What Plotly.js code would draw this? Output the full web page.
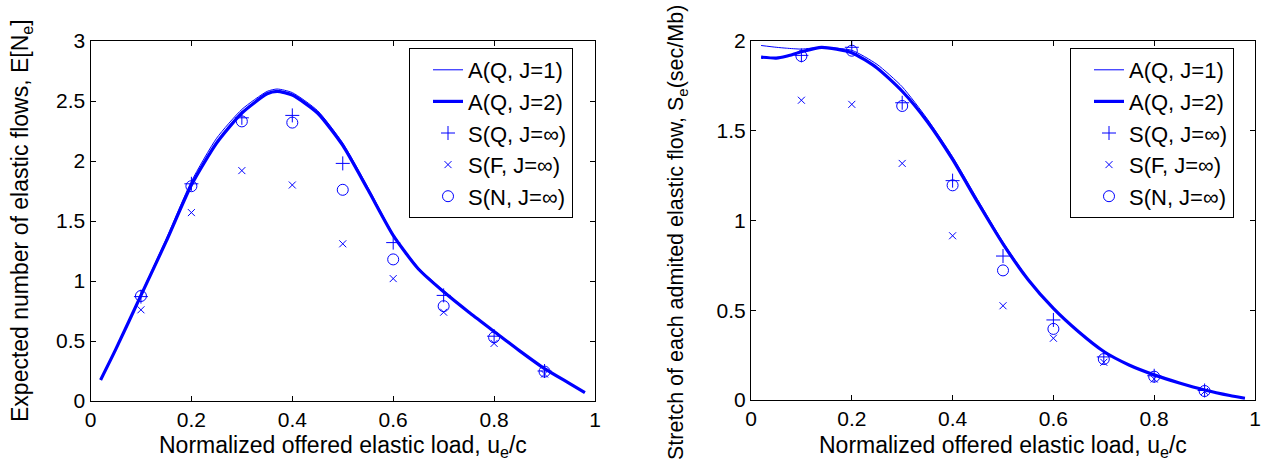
<!DOCTYPE html>
<html>
<head>
<meta charset="utf-8">
<script src="https://cdn.plot.ly/plotly-3.0.1.min.js"></script>
<style>html,body{margin:0;padding:0;background:#fff;}#chart{width:1267px;height:466px;}</style>
</head>
<body>
<div id="chart"></div>
<script>
// ---- Data ----
const curveX = [0.02,0.05,0.1,0.15,0.2,0.25,0.3,0.35,0.37,0.4,0.45,0.5,0.55,0.6,0.65,0.7,0.75,0.8,0.85,0.9,0.95,0.98];
// Left panel: expected number of elastic flows
const leftJ1 = [0.175,0.43,0.89,1.35,1.83,2.19,2.43,2.58,2.60,2.57,2.42,2.15,1.78,1.39,1.11,0.92,0.745,0.585,0.425,0.27,0.145,0.07];
const leftJ2 = [0.175,0.43,0.88,1.33,1.80,2.15,2.40,2.56,2.58,2.55,2.40,2.13,1.76,1.38,1.10,0.91,0.74,0.58,0.42,0.27,0.145,0.07];
const simX = [0.1,0.2,0.3,0.4,0.5,0.6,0.7,0.8,0.9];
const leftSQ = [0.87,1.81,2.36,2.38,1.98,1.32,0.88,0.54,0.25];
const leftSF = [0.76,1.57,1.92,1.80,1.31,1.02,0.74,0.48,0.225];
const leftSN = [0.875,1.79,2.33,2.32,1.76,1.18,0.79,0.53,0.245];
// Right panel: stretch of each admited elastic flow
const rightCurveX = [0.02,0.05,0.07,0.1,0.14,0.2,0.25,0.3,0.35,0.4,0.45,0.5,0.55,0.6,0.65,0.7,0.75,0.8,0.85,0.9,0.95,0.98];
const rightJ1 = [1.975,1.965,1.96,1.955,1.965,1.948,1.87,1.745,1.565,1.355,1.115,0.88,0.675,0.51,0.38,0.27,0.195,0.14,0.095,0.056,0.025,0.01];
const rightJ2 = [1.91,1.905,1.915,1.94,1.965,1.935,1.85,1.72,1.55,1.34,1.10,0.87,0.67,0.51,0.38,0.27,0.195,0.14,0.095,0.056,0.025,0.01];
const rightSQ = [1.92,1.965,1.656,1.222,0.802,0.446,0.24,0.135,0.053];
const rightSF = [1.67,1.647,1.318,0.915,0.525,0.344,0.21,0.117,0.048];
const rightSN = [1.916,1.946,1.638,1.196,0.722,0.396,0.228,0.13,0.05];
const seriesNames = ["A(Q, J=1)","A(Q, J=2)","S(Q, J=\u221e)","S(F, J=\u221e)","S(N, J=\u221e)"];
const xTicks = [0,0.2,0.4,0.6,0.8,1];
const xTickText = ["0","0.2","0.4","0.6","0.8","1"];
const leftYTicks = [0,0.5,1,1.5,2,2.5,3];
const leftYTickText = ["0","0.5","1","1.5","2","2.5","3"];
const rightYTicks = [0,0.5,1,1.5,2];
const rightYTickText = ["0","0.5","1","1.5","2"];

const BLUE = "rgb(0,0,255)";
const FONT = "Liberation Sans, Arial, sans-serif";

function panel(cx, j1, j2, sq, sf, sn, xa, ya, leg) {
  return [
    {x: cx, y: j1, mode: "lines", name: seriesNames[0], line: {color: BLUE, width: 1, shape: "spline", smoothing: 0.6}, xaxis: xa, yaxis: ya, legend: leg},
    {x: cx, y: j2, mode: "lines", name: seriesNames[1], line: {color: BLUE, width: 3.2, shape: "spline", smoothing: 0.6}, xaxis: xa, yaxis: ya, legend: leg},
    {x: simX, y: sq, mode: "markers", name: seriesNames[2], marker: {symbol: "cross-thin-open", size: 10, color: BLUE, line: {color: BLUE, width: 1}}, xaxis: xa, yaxis: ya, legend: leg},
    {x: simX, y: sf, mode: "markers", name: seriesNames[3], marker: {symbol: "x-thin-open", size: 7, color: BLUE, line: {color: BLUE, width: 1}}, xaxis: xa, yaxis: ya, legend: leg},
    {x: simX, y: sn, mode: "markers", name: seriesNames[4], marker: {symbol: "circle-open", size: 11, color: BLUE, line: {color: BLUE, width: 1}}, xaxis: xa, yaxis: ya, legend: leg}
  ];
}

const data = panel(curveX, leftJ1, leftJ2, leftSQ, leftSF, leftSN, "x", "y", "legend")
  .concat(panel(rightCurveX, rightJ1, rightJ2, rightSQ, rightSF, rightSN, "x2", "y2", "legend2"));

const W = 1267, H = 466;
function axisCommon(extra) {
  return Object.assign({
    showline: true, linecolor: "black", linewidth: 1, mirror: "ticks",
    ticks: "inside", ticklen: 5, tickcolor: "black", tickwidth: 1,
    showgrid: false, zeroline: false, fixedrange: true,
    tickfont: {family: FONT, size: 21, color: "black"}
  }, extra);
}
function legendCfg(xpx, ypx) {
  return {x: xpx / W, y: (H - ypx) / H, xanchor: "left", yanchor: "top",
    bgcolor: "white", bordercolor: "black", borderwidth: 1, indentation: 18,
    font: {family: FONT, size: 22, color: "black"}};
}

const layout = {
  width: W, height: H,
  margin: {l: 0, r: 0, t: 0, b: 0},
  paper_bgcolor: "white", plot_bgcolor: "white",
  showlegend: true,
  xaxis: axisCommon({domain: [90.5 / W, 595 / W], range: [0, 1], tickvals: xTicks, ticktext: xTickText, anchor: "y"}),
  yaxis: axisCommon({domain: [(H - 401) / H, (H - 41) / H], range: [0, 3], tickvals: leftYTicks, ticktext: leftYTickText, anchor: "x"}),
  xaxis2: axisCommon({domain: [751 / W, 1255 / W], range: [0, 1], tickvals: xTicks, ticktext: xTickText, anchor: "y2"}),
  yaxis2: axisCommon({domain: [(H - 400) / H, (H - 41) / H], range: [0, 2], tickvals: rightYTicks, ticktext: rightYTickText, anchor: "x2"}),
  legend: legendCfg(409, 48),
  legend2: legendCfg(1070, 48),
  annotations: [
    {text: "Normalized offered elastic load, u<sub>e</sub>/c", xref: "paper", yref: "paper", x: 343 / W, y: (H - 446) / H, xanchor: "center", yanchor: "middle", showarrow: false, font: {family: FONT, size: 23, color: "black"}},
    {text: "Normalized offered elastic load, u<sub>e</sub>/c", xref: "paper", yref: "paper", x: 1003 / W, y: (H - 446) / H, xanchor: "center", yanchor: "middle", showarrow: false, font: {family: FONT, size: 23, color: "black"}},
    {text: "Expected number of elastic flows, E[N<sub>e</sub>]", xref: "paper", yref: "paper", x: 21 / W, y: (H - 221) / H, xanchor: "center", yanchor: "middle", textangle: -90, showarrow: false, font: {family: FONT, size: 23, color: "black"}},
    {text: "Stretch of each admited elastic flow, S<sub>e</sub>(sec/Mb)", xref: "paper", yref: "paper", x: 677 / W, y: (H - 233) / H, xanchor: "center", yanchor: "middle", textangle: -90, showarrow: false, font: {family: FONT, size: 21.5, color: "black"}}
  ]
};

Plotly.newPlot("chart", data, layout, {displayModeBar: false, staticPlot: true});
</script>
</body>
</html>
